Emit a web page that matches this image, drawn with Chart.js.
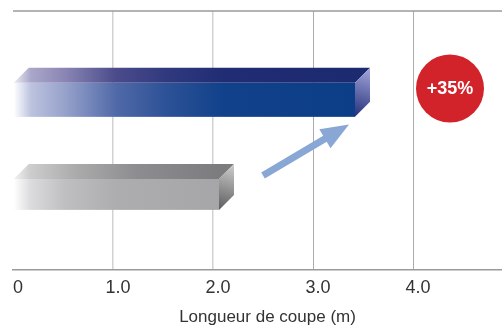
<!DOCTYPE html>
<html lang="fr">
<head>
<meta charset="utf-8">
<title>Longueur de coupe</title>
<script src="https://cdn.jsdelivr.net/npm/chart.js@4/dist/chart.umd.min.js"></script>
<style>
  html, body { margin: 0; padding: 0; background: #fff; }
  #wrap { width: 502px; height: 329px; position: relative; }
</style>
</head>
<body>
<div id="wrap"><canvas id="chart"></canvas></div>
<script>
// Cutting length reached by each machine generation, in metres
const categories = ['Nouvelle génération', 'Génération précédente'];
const lengths = [3.42, 2.06];
const tickValues = [0, 1, 2, 3, 4];
const tickLabels = ['0', '1.0', '2.0', '3.0', '4.0'];
const axisTitle = 'Longueur de coupe (m)';
const gainLabel = '+35%';

// Styling of the extruded bars: front, top and side faces
const DEPTH_X = 15;
const DEPTH_Y = 15;
const barLooks = [
  {
    thickness: 34,
    front: [[0, '#ffffff'], [0.05, '#bcc3df'], [0.15, '#97a2cb'], [0.3, '#5069a8'], [0.45, '#2c5196'], [0.62, '#10418a'], [1, '#0c3d87']],
    top:   [[0, '#ececf3'], [0.05, '#aaa7ca'], [0.15, '#8a85b4'], [0.3, '#4b4b8b'], [0.45, '#30397e'], [0.62, '#202c73'], [1, '#1c2a70']],
    side:  [[0, '#a6a8dc'], [1, '#24307a']]
  },
  {
    thickness: 31,
    front: [[0, '#ffffff'], [0.08, '#dcdcde'], [0.25, '#bfbfc1'], [0.5, '#adadaf'], [1, '#a6a6a8']],
    top:   [[0, '#f2f2f2'], [0.08, '#cdcdcd'], [0.3, '#ababac'], [0.6, '#8d8d8f'], [1, '#7c7c7e']],
    side:  [[0, '#cfcfcf'], [1, '#5c5c5e']]
  }
];

function gradient(ctx, x0, y0, x1, y1, stops) {
  const g = ctx.createLinearGradient(x0, y0, x1, y1);
  stops.forEach(([o, c]) => g.addColorStop(o, c));
  return g;
}

// Draws each bar element as a box with a lit top and a shaded end
const prismBars = {
  id: 'prismBars',
  afterDatasetsDraw(chart) {
    const ctx = chart.ctx;
    chart.data.datasets.forEach((ds, di) => {
      const look = barLooks[di];
      chart.getDatasetMeta(di).data.forEach(bar => {
        const { x, y, base, height } = bar.getProps(['x', 'y', 'base', 'height'], true);
        const top = y - height / 2;
        const bottom = y + height / 2;
        const left = base;
        const right = x;
        ctx.save();
        ctx.fillStyle = gradient(ctx, left, 0, right, 0, look.front);
        ctx.fillRect(left, top, right - left, height);

        ctx.beginPath();
        ctx.moveTo(left, top);
        ctx.lineTo(left + DEPTH_X, top - DEPTH_Y);
        ctx.lineTo(right + DEPTH_X, top - DEPTH_Y);
        ctx.lineTo(right, top);
        ctx.closePath();
        ctx.fillStyle = gradient(ctx, left, 0, right, 0, look.top);
        ctx.fill();

        ctx.beginPath();
        ctx.moveTo(right, top);
        ctx.lineTo(right + DEPTH_X, top - DEPTH_Y);
        ctx.lineTo(right + DEPTH_X, bottom - DEPTH_Y);
        ctx.lineTo(right, bottom);
        ctx.closePath();
        ctx.fillStyle = gradient(ctx, right + DEPTH_X, top - DEPTH_Y, right, bottom, look.side);
        ctx.fill();
        ctx.restore();
      });
    });
  }
};

// Frame line on top, the gain arrow, the gain badge and the axis title
const decorations = {
  id: 'decorations',
  afterDraw(chart) {
    const ctx = chart.ctx;
    const { left, right, top, bottom } = chart.chartArea;
    const xs = chart.scales.x;
    const ys = chart.scales.y;

    ctx.save();
    ctx.strokeStyle = '#9a9a9a';
    ctx.lineWidth = 1.5;
    ctx.beginPath();
    ctx.moveTo(left, top);
    ctx.lineTo(right, top);
    ctx.stroke();

    // arrow from the shorter bar towards the longer one
    const x0 = xs.getPixelForValue(2.5), y0 = ys.getPixelForValue(0.8);
    const x1 = xs.getPixelForValue(3.36), y1 = ys.getPixelForValue(0.26);
    const ang = Math.atan2(y1 - y0, x1 - x0);
    const headLen = 28, headHalf = 11;
    const bx = x1 - headLen * Math.cos(ang), by = y1 - headLen * Math.sin(ang);
    ctx.strokeStyle = '#88a7d5';
    ctx.fillStyle = '#88a7d5';
    ctx.lineWidth = 7;
    ctx.beginPath();
    ctx.moveTo(x0, y0);
    ctx.lineTo(bx + 2 * Math.cos(ang), by + 2 * Math.sin(ang));
    ctx.stroke();
    ctx.beginPath();
    ctx.moveTo(x1, y1);
    ctx.lineTo(bx + headHalf * Math.sin(ang), by - headHalf * Math.cos(ang));
    ctx.lineTo(bx - headHalf * Math.sin(ang), by + headHalf * Math.cos(ang));
    ctx.closePath();
    ctx.fill();

    // gain badge
    const cx = xs.getPixelForValue(4.37), cy = ys.getPixelForValue(-0.12);
    ctx.fillStyle = '#d2232a';
    ctx.beginPath();
    ctx.arc(cx, cy, 34, 0, Math.PI * 2);
    ctx.fill();
    ctx.fillStyle = '#ffffff';
    ctx.font = 'bold 18px "Liberation Sans", Arial, sans-serif';
    ctx.textAlign = 'center';
    ctx.textBaseline = 'middle';
    ctx.fillText(gainLabel, cx, cy + 1);

    // axis title
    ctx.fillStyle = '#333333';
    ctx.font = '17px "Liberation Sans", Arial, sans-serif';
    ctx.fillText(axisTitle, (left + right) / 2 + 10, bottom + 47);
    ctx.restore();
  }
};

new Chart(document.getElementById('chart'), {
  type: 'bar',
  data: {
    datasets: lengths.map((v, i) => ({
      label: categories[i],
      data: [{ x: v, y: i }],
      barThickness: barLooks[i].thickness,
      backgroundColor: 'rgba(0,0,0,0)',
      borderWidth: 0,
      grouped: false
    }))
  },
  options: {
    indexAxis: 'y',
    responsive: true,
    maintainAspectRatio: false,
    animation: false,
    layout: { padding: { left: 13, right: 0, top: 11, bottom: 0 } },
    plugins: { legend: { display: false }, tooltip: { enabled: false } },
    scales: {
      x: {
        type: 'linear',
        min: 0,
        max: 4.89,
        afterFit: (scale) => { scale.height = 59; },
        afterBuildTicks: (scale) => { scale.ticks = tickValues.map(v => ({ value: v })); },
        ticks: {
          padding: 7,
          labelOffset: 5,
          color: '#333333',
          font: { family: '"Liberation Sans", Arial, sans-serif', size: 18 },
          callback: (v) => tickLabels[tickValues.indexOf(v)] ?? ''
        },
        grid: {
          drawTicks: false,
          color: (c) => c.tick && c.tick.value === 0 ? 'rgba(0,0,0,0)' : (c.tick && c.tick.value <= 2 ? '#d2d2d2' : '#ababab'),
          lineWidth: (c) => c.tick && c.tick.value <= 2 ? 1.5 : 1
        },
        border: { display: true, color: '#9a9a9a', width: 1.5 }
      },
      y: {
        type: 'linear',
        reverse: true,
        offset: false,
        grid: { offset: false },
        min: -0.94,
        max: 1.8,
        display: false
      }
    }
  },
  plugins: [prismBars, decorations]
});
</script>
</body>
</html>
